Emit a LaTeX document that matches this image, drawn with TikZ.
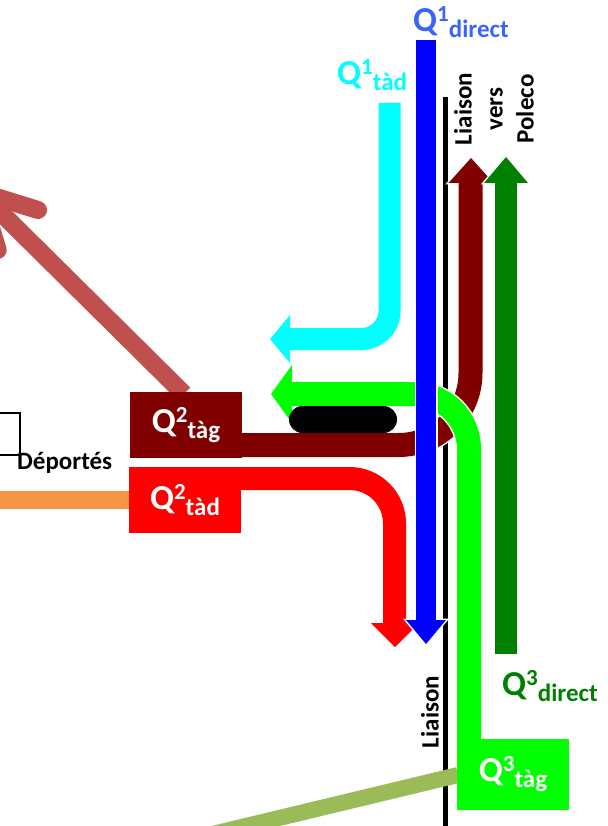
\documentclass[tikz,border=0pt]{standalone}
\usepackage{fontspec}
\setmainfont{Carlito}
\usetikzlibrary{calc}
\definecolor{dred}{RGB}{128,0,0}
\definecolor{lime}{RGB}{0,255,0}
\definecolor{aqua}{RGB}{0,255,255}
\definecolor{pblue}{RGB}{0,0,255}
\definecolor{pred}{RGB}{255,0,0}
\definecolor{dgreen}{RGB}{0,128,0}
\definecolor{rosy}{RGB}{192,80,77}
\definecolor{orng}{RGB}{247,150,70}
\definecolor{olivel}{RGB}{155,187,89}
\definecolor{qblue}{RGB}{60,100,250}
\newcommand\qlab[2]{Q\raisebox{10pt}{\fontsize{23}{23}\selectfont #1}\raisebox{-6pt}{\fontsize{25}{25}\selectfont #2}}
\tikzset{
  lab/.style={font=\bfseries\fontsize{35}{35}\selectfont, inner sep=0pt, anchor=base west},
  qbox/.style={minimum width=112pt, minimum height=66pt, inner sep=0pt, text=white,
    font=\bfseries\fontsize{35}{35}\selectfont},
  wline/.style={draw=white, line width=#1},
  headw/.style={draw=white, line width=3pt, line join=miter},
}
\begin{document}
\begin{tikzpicture}[x=1pt,y=-1pt]
\useasboundingbox (0,0) rectangle (607,826);
% coordinates
\coordinate (bkT) at (445.5,97);
\coordinate (bkB) at (445.5,830);
% orange band
\fill[orng] (-5,491) rectangle (130,509);
% rosy arrow
\coordinate (rtip) at (-20,192);
\coordinate (rend) at (184,394);
\coordinate (rb1) at (38,210);
\coordinate (rb2) at (-2.3,250);
\draw[rosy, line width=18pt] (rtip) -- (rend);
\draw[rosy, line width=18pt, line cap=round, line join=round] (rb1) -- (rtip) -- (rb2);
% black vertical line
\draw[black, line width=5.5pt] (bkT) -- (bkB);
% left black rectangle and text
\draw[line width=1.5pt] (-10,413) rectangle (20,455);
\node[font=\bfseries\fontsize{25}{25}\selectfont, inner sep=0pt, anchor=base west] (dep) at (17,469) {Déportés};
% dark red flow
\coordinate (drS) at (240,445);
\coordinate (drC) at (470.5,445);
\coordinate (drE) at (470.5,183);
\draw[wline=27pt, rounded corners=72pt] (drS) -- (drC) -- (drE);
\filldraw[fill=dred, headw] (448.5,183) -- (471,158) -- (493.5,183) -- cycle;
\fill[dred] (448.5,183) -- (471,158) -- (493.5,183) -- cycle;
\draw[dred, line width=24pt, rounded corners=72pt] (drS) -- (drC) -- (drE);
% cyan flow
\coordinate (cyS) at (389.5,103);
\coordinate (cyC) at (389.5,339);
\coordinate (cyE) at (290,339);
\draw[wline=25pt, rounded corners=28pt] (cyS) -- (cyC) -- (cyE);
\filldraw[fill=aqua, headw] (290,315) -- (270,339) -- (290,363) -- cycle;
\fill[aqua] (290,315) -- (270,339) -- (290,363) -- cycle;
\draw[aqua, line width=22pt, rounded corners=28pt] (cyS) -- (cyC) -- (cyE);
% lime flow
\coordinate (gS) at (469,745);
\coordinate (gC) at (469,394);
\coordinate (gE) at (292,394);
\draw[wline=27pt, rounded corners=55pt] (gS) -- (gC) -- (gE);
\filldraw[fill=lime, headw] (292,365) -- (271,394) -- (292,423) -- cycle;
\fill[lime] (292,365) -- (271,394) -- (292,423) -- cycle;
\draw[lime, line width=24pt, rounded corners=55pt] (gS) -- (gC) -- (gE);
% black rounded bar
\fill[black, rounded corners=13.5pt] (289,406) rectangle (397,433);
% red flow
\coordinate (rS) at (240,478.5);
\coordinate (rC) at (394.5,478.5);
\coordinate (rE) at (394.5,623);
\draw[wline=26pt, rounded corners=45pt] (rS) -- (rC) -- (rE);
\filldraw[fill=pred, headw] (371,623) -- (395,647) -- (419,623) -- cycle;
\fill[pred] (371,623) -- (395,647) -- (419,623) -- cycle;
\draw[pred, line width=23pt, rounded corners=45pt] (rS) -- (rC) -- (rE);
% blue flow
\coordinate (bS) at (426,40);
\coordinate (bE) at (426,620);
\draw[wline=23pt] (bS) -- (bE);
\filldraw[fill=pblue, headw] (406,620) -- (426,644) -- (446,620) -- cycle;
\fill[pblue] (406,620) -- (426,644) -- (446,620) -- cycle;
\draw[pblue, line width=20pt] (bS) -- (bE);
% dark green flow
\coordinate (dgS) at (506,654);
\coordinate (dgE) at (506,183);
\draw[wline=25pt] (dgS) -- (dgE);
\filldraw[fill=dgreen, headw] (484,183) -- (506,157) -- (528,183) -- cycle;
\fill[dgreen] (484,183) -- (506,157) -- (528,183) -- cycle;
\draw[dgreen, line width=22pt] (dgS) -- (dgE);
% olive line
\coordinate (oS) at (150,849);
\coordinate (oE) at (458,775);
\draw[olivel, line width=16pt] (oS) -- (oE);
% boxes
\node[qbox, fill=dred] (q2tg) at (186,425) {\qlab{2}{tàg}};
\node[qbox, fill=pred] (q2td) at (185,500) {\qlab{2}{tàd}};
\node[qbox, fill=lime, minimum height=71pt] (q3tg) at (513,774.5) {\qlab{3}{tàg}};
% labels
\node[lab, text=qblue] (q1d) at (413,32) {\qlab{1}{direct}};
\node[lab, text=aqua] (q1t) at (337,85) {\qlab{1}{tàd}};
\node[lab, text=dgreen] (q3d) at (502,695) {\qlab{3}{direct}};
\node[rotate=90, align=center, inner sep=0pt, font=\bfseries\fontsize{25}{31}\selectfont] (lvp) at (494,109) {Liaison\\vers\\Poleco};
\node[rotate=90, inner sep=0pt, font=\bfseries\fontsize{25}{31}\selectfont] (lia) at (430,712) {Liaison};
\end{tikzpicture}
\end{document}
